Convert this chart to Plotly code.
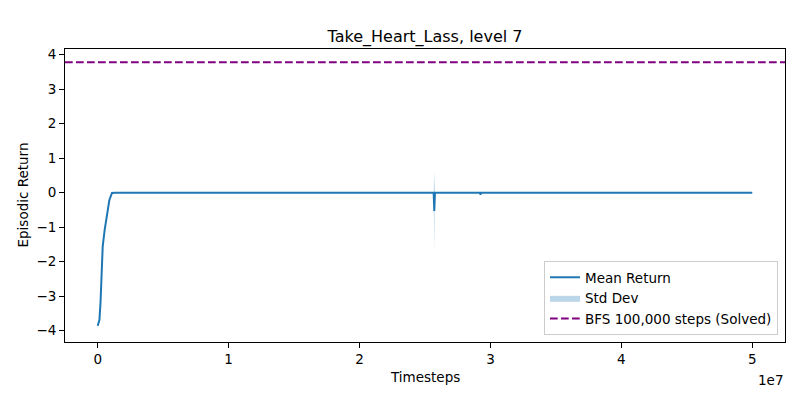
import plotly.graph_objects as go

# ---- data ----
timesteps = [0, 0.13e6, 0.21e6, 0.28e6, 0.38e6, 0.53e6, 0.71e6, 0.89e6, 1.09e6, 1.35e6,
             2e6, 5e6, 1e7, 1.5e7, 2e7, 2.5e7, 2.566e7, 2.571e7, 2.576e7,
             2.9e7, 2.92e7, 2.924e7, 2.928e7, 2.95e7, 3.5e7, 4e7, 4.5e7, 5e7]
mean_return = [-3.86, -3.69, -3.21, -2.53, -1.56, -1.08, -0.60, -0.21, -0.01, 0.0,
               0.0, 0.0, 0.0, 0.0, 0.0, 0.0, 0.0, -0.53, 0.0,
               0.0, 0.0, -0.06, 0.0, 0.0, 0.0, 0.0, 0.0, 0.0]
std_dev = [0.08, 0.06, 0.05, 0.05, 0.05, 0.04, 0.03, 0.02, 0.01, 0.0,
           0.0, 0.0, 0.0, 0.0, 0.0, 0.0, 0.0, 1.13, 0.0,
           0.0, 0.0, 0.0, 0.0, 0.0, 0.0, 0.0, 0.0, 0.0]
bfs_value = 3.78
title_text = "Take_Heart_Lass, level 7"

upper = [m + s for m, s in zip(mean_return, std_dev)]
lower = [m - s for m, s in zip(mean_return, std_dev)]

BLUE = "#1f77b4"
FONT = "DejaVu Sans"

# page body has an 8px margin; the figure is sized so the plot lands where the reference has it
OFF = 8
W, H = 800 - OFF, 400 - OFF
L, R, T, B = 65 - OFF, 15, 49 - OFF, 58
PW, PH = W - L - R, H - T - B

fig = go.Figure()
fig.add_trace(go.Scatter(x=timesteps, y=mean_return, mode="lines", name="Mean Return",
                         line=dict(color=BLUE, width=2)))
fig.add_trace(go.Scatter(x=timesteps, y=upper, mode="lines", line=dict(width=0),
                         showlegend=False, hoverinfo="skip"))
fig.add_trace(go.Scatter(x=timesteps, y=lower, mode="lines", line=dict(width=0),
                         fill="tonexty", fillcolor="rgba(31,119,180,0.3)", name="Std Dev"))
fig.add_trace(go.Scatter(x=[-0.25e7, 5.25e7], y=[bfs_value, bfs_value], mode="lines",
                         name="BFS 100,000 steps (Solved)",
                         line=dict(color="purple", width=2, dash="7.7px,3.3px")))

axis_common = dict(showline=True, linecolor="black", linewidth=1, mirror=True,
                   ticks="outside", ticklen=5, tickcolor="black", showgrid=False,
                   zeroline=False, tickfont=dict(family=FONT, size=13.5, color="black"))

fig.update_layout(
    width=W, height=H,
    margin=dict(l=L, r=R, t=T, b=B, autoexpand=False),
    plot_bgcolor="white", paper_bgcolor="white",
    font=dict(family=FONT, size=13.5, color="black"),
    title=dict(text=title_text, x=(L + PW / 2) / W, xanchor="center",
               y=1 - (36 - OFF) / H, yanchor="middle", yref="container",
               font=dict(family=FONT, size=16, color="black")),
    xaxis=dict(range=[-0.25e7, 5.25e7], tickvals=[0, 1e7, 2e7, 3e7, 4e7, 5e7],
               ticktext=["0", "1", "2", "3", "4", "5"], **axis_common),
    yaxis=dict(range=[-4.33, 4.165], tickvals=[-4, -3, -2, -1, 0, 1, 2, 3, 4],
               ticktext=["\u22124", "\u22123", "\u22122", "\u22121", "0", "1", "2", "3", "4"],
               **axis_common),
    legend=dict(x=(778 - 65) / PW, y=(342 - 335) / PH, xanchor="right", yanchor="bottom",
                traceorder="normal",
                bgcolor="rgba(255,255,255,0.8)", bordercolor="#cccccc", borderwidth=1,
                font=dict(family=FONT, size=13.5, color="black"), tracegroupgap=0),
    annotations=[
        dict(text="Timesteps", xref="paper", yref="paper", x=0.5, y=-35 / PH,
             yanchor="middle", showarrow=False, font=dict(family=FONT, size=13.5)),
        dict(text="Episodic Return", xref="paper", yref="paper", x=-43 / PW, y=0.5,
             textangle=-90, xanchor="center", showarrow=False, font=dict(family=FONT, size=13.5)),
        dict(text="1e7", xref="paper", yref="paper", x=1.0, y=-38 / PH, xanchor="right",
             yanchor="middle", showarrow=False, font=dict(family=FONT, size=13.5)),
    ],
)

fig.write_html("out.html")
